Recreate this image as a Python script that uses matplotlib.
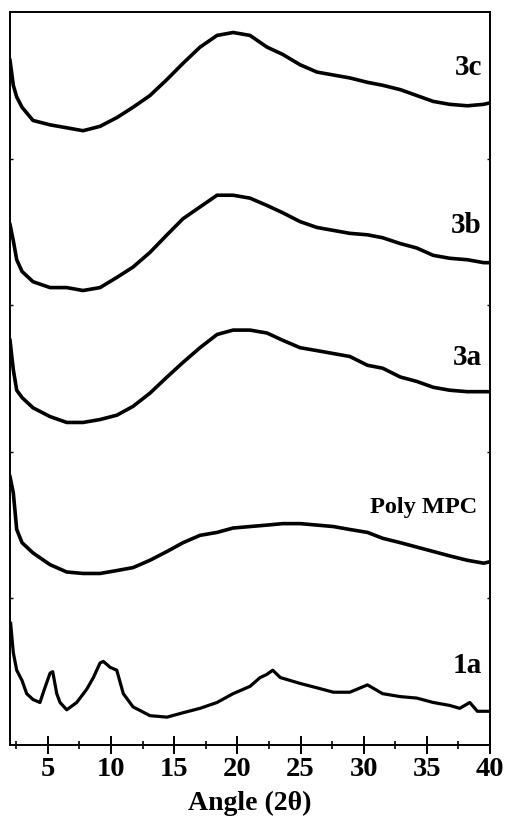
import matplotlib.pyplot as plt
from matplotlib.ticker import MultipleLocator

plt.rcParams["font.family"] = ["Liberation Serif", "DejaVu Serif"]
plt.rcParams["font.weight"] = "bold"

# angles 2theta (deg) communs aux courbes 3c, 3b, 3a et Poly MPC
angle = [2.0, 2.26, 2.53, 2.95, 3.82, 5.17, 6.49, 7.78, 9.13, 10.47, 11.74,
         13.08, 14.43, 15.7, 17.04, 18.39, 19.66, 21.0, 22.35, 23.6, 24.96,
         26.3, 27.6, 28.9, 30.3, 31.5, 32.9, 34.2, 35.5, 36.8, 38.2, 39.5, 40.0]

# intensites (u.a., deja decalees verticalement)
i_3c = [4.67, 4.50, 4.42, 4.35, 4.26, 4.23, 4.21, 4.19, 4.22, 4.28, 4.35,
        4.43, 4.54, 4.65, 4.76, 4.84, 4.86, 4.84, 4.76, 4.71, 4.64,
        4.59, 4.57, 4.55, 4.52, 4.50, 4.47, 4.43, 4.39, 4.37, 4.36, 4.37, 4.38]
i_3b = [3.55, 3.44, 3.31, 3.23, 3.16, 3.12, 3.12, 3.10, 3.12, 3.19, 3.26,
        3.36, 3.48, 3.59, 3.67, 3.75, 3.75, 3.73, 3.68, 3.63, 3.57,
        3.53, 3.51, 3.49, 3.48, 3.46, 3.42, 3.39, 3.34, 3.32, 3.31, 3.29, 3.29]
i_3a = [2.76, 2.56, 2.42, 2.37, 2.30, 2.24, 2.20, 2.20, 2.22, 2.25, 2.31,
        2.40, 2.51, 2.61, 2.71, 2.80, 2.83, 2.83, 2.81, 2.76, 2.71,
        2.69, 2.67, 2.65, 2.59, 2.57, 2.51, 2.48, 2.44, 2.42, 2.41, 2.41, 2.41]
i_poly = [1.83, 1.72, 1.47, 1.38, 1.31, 1.23, 1.18, 1.17, 1.17, 1.19, 1.21,
          1.26, 1.32, 1.38, 1.43, 1.45, 1.48, 1.49, 1.50, 1.51, 1.51,
          1.50, 1.49, 1.47, 1.45, 1.41, 1.38, 1.35, 1.32, 1.29, 1.26, 1.24, 1.25]

# 1a : pics cristallins, echantillonnage plus fin
angle_1a = [2.05, 2.26, 2.53, 2.95, 3.32, 3.82, 4.37, 4.72, 5.17, 5.38, 5.70,
            5.96, 6.49, 7.28, 8.07, 8.6, 9.13, 9.39, 9.92, 10.45, 10.97,
            11.74, 13.08, 14.43, 15.7, 17.04, 18.39, 19.66, 21.0, 21.8, 22.3,
            22.8, 23.4, 24.96, 26.3, 27.6, 28.9, 30.3, 31.5, 32.9, 34.2,
            35.5, 36.8, 37.6, 38.4, 39.0, 40.0]
i_1a = [0.83, 0.63, 0.51, 0.44, 0.35, 0.31, 0.29, 0.38, 0.49, 0.50, 0.35,
        0.29, 0.24, 0.29, 0.38, 0.46, 0.56, 0.57, 0.53, 0.51, 0.35,
        0.26, 0.20, 0.19, 0.22, 0.25, 0.29, 0.35, 0.40, 0.46, 0.48,
        0.51, 0.46, 0.42, 0.39, 0.36, 0.36, 0.41, 0.35, 0.33, 0.32,
        0.29, 0.27, 0.25, 0.29, 0.23, 0.23]

noms = ["3c", "3b", "3a", "Poly MPC", "1a"]
pos_nom = [4.57, 3.49, 2.59, 1.58, 0.49]

fig = plt.figure(figsize=(5.06, 8.31), dpi=100)
ax = fig.add_axes([0.0198, 0.1035, 0.9486, 0.8821])

for y in [i_3c, i_3b, i_3a, i_poly]:
    ax.plot(angle, y, color="black", lw=2.6, solid_joinstyle="round")
ax.plot(angle_1a, i_1a, color="black", lw=2.3, solid_joinstyle="round")

for nom, yn in zip(noms, pos_nom):
    taille = 17.5 if nom == "Poly MPC" else 21
    xn = 38.97 if nom == "Poly MPC" else 39.37
    ax.text(xn, yn, nom, ha="right", va="baseline", fontsize=taille,
            fontweight="bold")

ax.set_xlim(2, 40)
ax.set_ylim(0, 5)
ax.xaxis.set_major_locator(MultipleLocator(5))
ax.xaxis.set_minor_locator(MultipleLocator(2.5))
ax.set_yticks([1, 2, 3, 4])
ax.set_yticklabels([])
ax.tick_params(axis="x", which="major", direction="inout", length=13.5,
               width=1.4, labelsize=20.5, pad=2)
ax.tick_params(axis="x", which="minor", direction="inout", length=5.8,
               width=1.2)
ax.tick_params(axis="y", direction="in", length=2, width=1.0,
               left=True, right=True)
for s in ax.spines.values():
    s.set_linewidth(1.4)

ax.set_xlabel("Angle (2θ)", fontsize=20, fontweight="bold", labelpad=6)

fig.savefig("out.png", dpi=100)
